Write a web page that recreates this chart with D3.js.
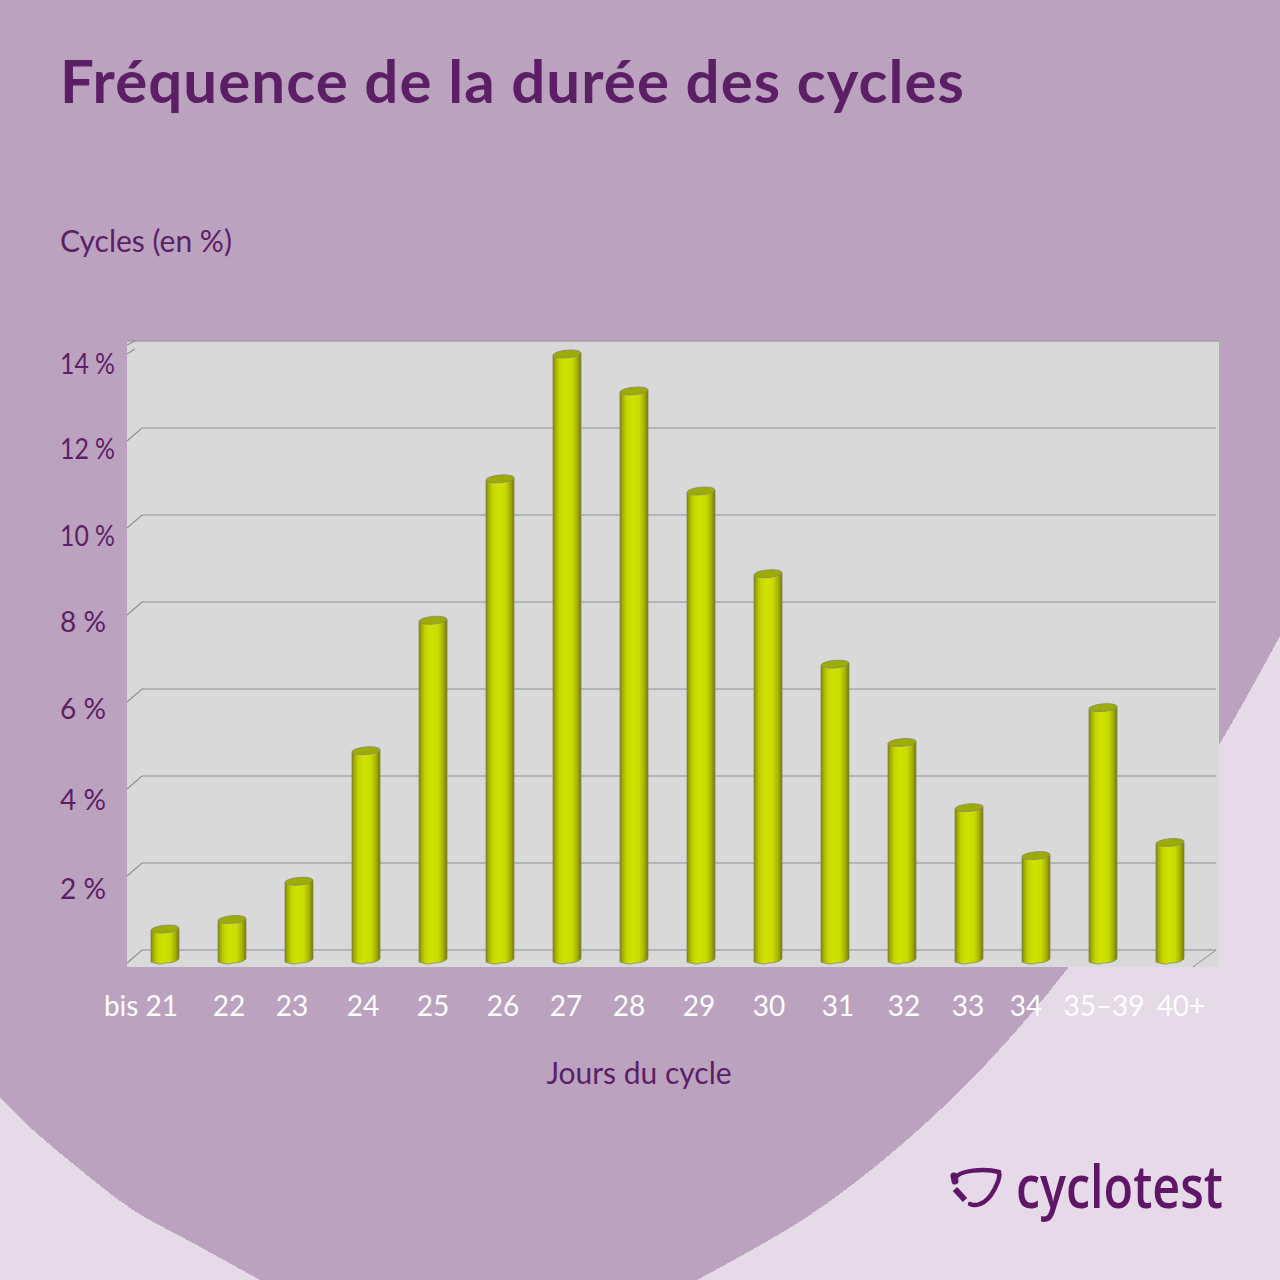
<!DOCTYPE html>
<html><head><meta charset="utf-8">
<script src="https://cdnjs.cloudflare.com/ajax/libs/d3/7.8.5/d3.min.js"></script>
<style>html,body{margin:0;padding:0;background:#E6D9E8}svg{display:block}</style>
</head><body><svg id="c" width="1280" height="1280"></svg>
<script>
const categories = ["bis 21","22","23","24","25","26","27","28","29","30","31","32","33","34","35–39","40+"];
const values = [0.78,1.0,1.88,4.88,7.88,11.13,14.0,13.15,10.85,8.95,6.87,5.07,3.57,2.47,5.87,2.77];
const yTicks = [2,4,6,8,10,12,14];
const gridValues = [0,2,4,6,8,10,12];
// label nudges: the reference's labels sit off their tick positions
const xLabelShift = [-24,-3,-7,-3,0,3,-1,-5,-2,1,3,2,-1,-10,1,11];
const yLabelShift = [13,11,7,7,8,8,10];

const W=1280, plot={l:127,r:1219,t:341,b:967}, depth={x:15,y:13};
const svg=d3.select("#c");
const FONT="Lato, 'Open Sans', sans-serif";
const x=d3.scaleBand().domain(categories).range([131.5,1203.5]);
const y=d3.scaleLinear().domain([0,14]).range([963,354]);
const barW=28;

// background
svg.append("rect").attr("width",W).attr("height",W).attr("fill","#E6D9E8");
const rightEdge=[[1280,636],[1219,745],[1150,852],[1068,968],[987,1063],[900,1146],[807,1217],[697,1280]];
const leftEdge=[[260,1280],[193,1243],[133,1210],[77,1167],[33,1130],[0,1098]];
const edge=d3.line().curve(d3.curveCatmullRom);
svg.append("path")
 .attr("d","M0,0H1280V636"+edge(rightEdge).replace(/^M[^C]*/,"")+"L260,1280"+edge(leftEdge).replace(/^M[^C]*/,"")+"Z")
 .attr("fill","#BBA2BF").attr("shape-rendering","crispEdges");

// plot panel
svg.append("rect").attr("x",plot.l).attr("y",plot.t).attr("width",plot.r-plot.l).attr("height",plot.b-plot.t).attr("fill","#D9D9D9");
svg.append("line").attr("x1",plot.l).attr("x2",plot.r).attr("y1",plot.t).attr("y2",plot.t).attr("stroke","#8f8f90").attr("stroke-width",1);
const gridCol="#8e8f91";
const g=svg.append("g").attr("fill","none").attr("stroke",gridCol).attr("stroke-width",1.2);
gridValues.forEach(v=>{
  const yy=y(v);
  g.append("path").attr("d",`M${plot.l},${yy}L${plot.l+depth.x},${yy-depth.y}H1216`);
});
g.append("path").attr("d",`M${plot.l},${y(14)-9}L${plot.l+8},${y(14)-13}`);
g.append("path").attr("d",`M${plot.l},${y(14)}L${plot.l+8},${y(14)-5}`);
g.append("path").attr("d",`M1193,${plot.b}L1216,${y(0)-13}`).attr("stroke-width",1);

// bars
const defs=svg.append("defs");
const grad=defs.append("linearGradient").attr("id","cyl").attr("x1","0").attr("x2","1").attr("y1","0").attr("y2","0");
[[0,"#7a8200"],[0.08,"#a0ac00"],[0.22,"#c3d400"],[0.42,"#cfe200"],[0.68,"#c9dc00"],[0.86,"#a6b200"],[1,"#75790a"]]
 .forEach(([o,c])=>grad.append("stop").attr("offset",o).attr("stop-color",c));
const bars=svg.append("g").selectAll("g").data(values).join("g");
bars.each(function(v,i){
  const s=d3.select(this), xl=x(categories[i])+(x.bandwidth()-barW)/2, xr=xl+barW, cx=(xl+xr)/2;
  const yt=y(v), yb=y(0);
  s.append("path")
   .attr("d",`M${xl},${yt+1}L${xl},${yb-1}Q${cx-4},${yb+2.5} ${cx},${yb}Q${cx+10},${yb} ${xr},${yb-4}L${xr},${yt-1}Z`)
   .attr("fill","url(#cyl)").attr("stroke","#85885c").attr("stroke-width",0.8);
  s.append("ellipse").attr("cx",cx).attr("cy",yt).attr("rx",barW/2).attr("ry",3.8)
   .attr("transform",`rotate(-5 ${cx} ${yt})`).attr("fill","#9dac00").attr("stroke","#8f9168").attr("stroke-width",0.9);
});

// axis labels
const ylab=svg.append("g").attr("font-family",FONT).attr("font-size",29).attr("font-weight",400).attr("fill","#5C1F66");
yTicks.forEach((t,i)=>ylab.append("text").attr("x",60).attr("y",y(t)+yLabelShift[i]).attr("dy","0.35em").attr("textLength",t>=10?55:46).attr("lengthAdjust","spacingAndGlyphs").text(t+" %"));
const xlab=svg.append("g").attr("font-family",FONT).attr("font-size",28).attr("font-weight",400).attr("fill","#fff").attr("text-anchor","middle");
categories.forEach((c,i)=>xlab.append("text").attr("x",x(c)+x.bandwidth()/2+xLabelShift[i]).attr("y",1016).text(c));

// titles
svg.append("text").attr("x",60).attr("y",103).attr("font-family",FONT).attr("font-size",60).attr("font-weight",700).attr("letter-spacing",1.05).attr("fill","#5C1F66").text("Fréquence de la durée des cycles");
svg.append("text").attr("x",60).attr("y",252).attr("font-family",FONT).attr("font-size",30).attr("font-weight",400).attr("fill","#5C1F66").text("Cycles (en %)");
svg.append("text").attr("x",639).attr("y",1084).attr("text-anchor","middle").attr("font-family",FONT).attr("font-size",30).attr("font-weight",400).attr("fill","#5C1F66").text("Jours du cycle");

// logo
const logo=svg.append("g").attr("fill","none").attr("stroke","#5F1667").attr("stroke-linecap","round");
logo.append("path").attr("d","M955,1179C958,1170 985,1168 999,1172C1001,1178 992,1200 980,1204C975,1206 972,1205 970,1204").attr("stroke-width",4.5);
logo.append("path").attr("d","M954,1176L955,1181").attr("stroke-width",7);
logo.append("path").attr("d","M955,1189L965,1200").attr("stroke-width",6).attr("stroke-linecap","butt");
svg.append("text").attr("x",1016).attr("y",1208).attr("font-family","'Open Sans',sans-serif").attr("font-size",60).attr("font-weight",600).attr("fill","#5F1667")
  .attr("textLength",207).attr("lengthAdjust","spacingAndGlyphs").text("cyclotest");
</script></body></html>
